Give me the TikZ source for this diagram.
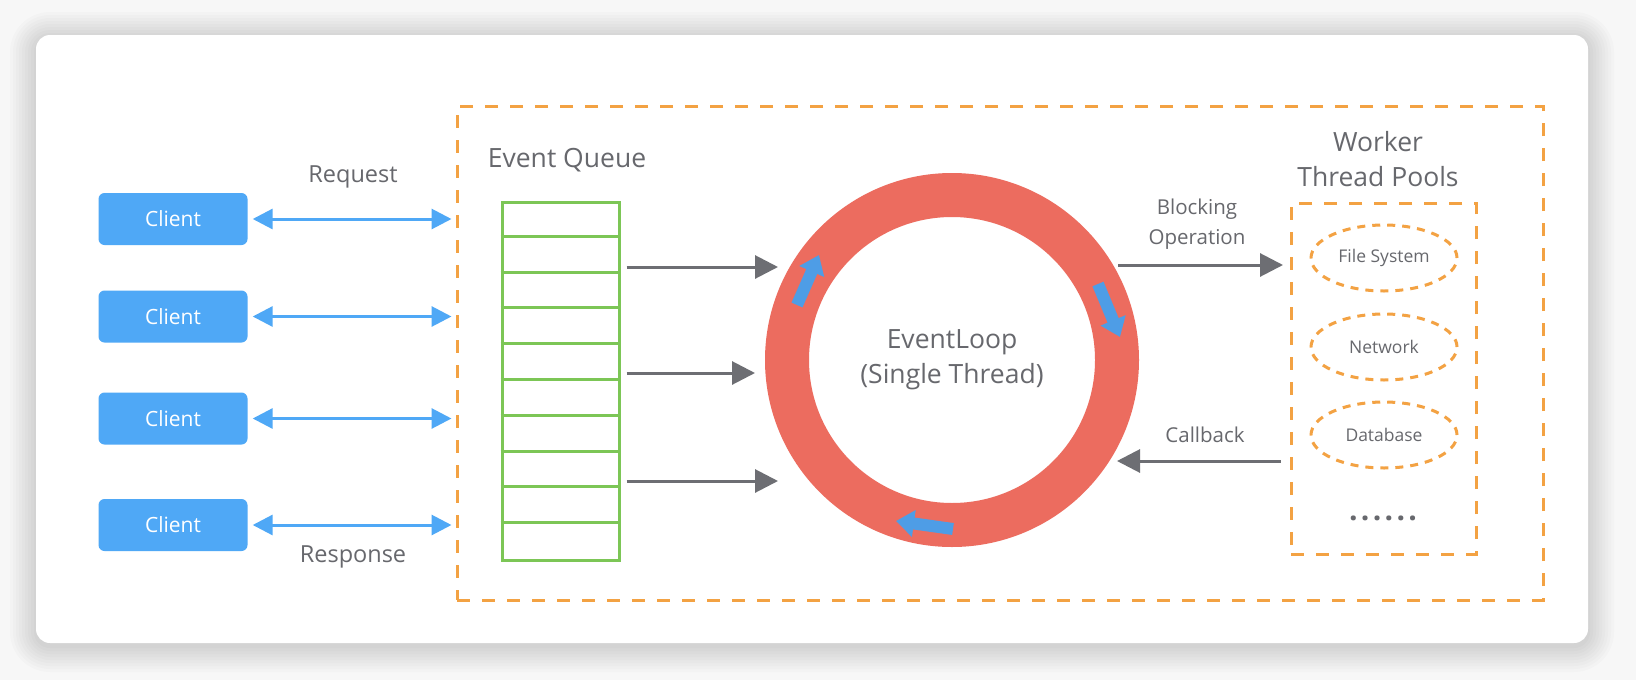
\documentclass[tikz,border=0pt]{standalone}
\usepackage{fontspec}
\setmainfont{Open Sans}
\usetikzlibrary{arrows.meta,shapes.geometric}
\definecolor{bgc}{HTML}{F7F7F7}
\definecolor{txt}{HTML}{67686D}
\definecolor{cblue}{HTML}{4FA8F6}
\definecolor{rblue}{HTML}{4E9DE6}
\definecolor{orng}{HTML}{F3A243}
\definecolor{grn}{HTML}{7CC656}
\definecolor{ringred}{HTML}{EC6C5F}
\definecolor{agray}{HTML}{6D6E73}
\tikzset{
  lbl/.style={text=txt, inner sep=0pt, font=\fontsize{23.5}{26}\selectfont},
  big/.style={lbl, font=\fontsize{26.5}{30}\selectfont},
  mid/.style={lbl, font=\fontsize{20.5}{24}\selectfont},
  client/.style={fill=cblue, rounded corners=6, minimum width=149, minimum height=52,
    text=white, font=\fontsize{21}{24}\selectfont, inner sep=0pt},
  barrow/.style={draw=cblue, line width=3, {Triangle[length=20pt,width=20pt]}-{Triangle[length=20pt,width=20pt]}},
  garrow/.style={draw=agray, line width=3, -{Triangle[length=23pt,width=23pt]}},
  ringarrow/.style={draw=rblue, line width=12, -{Triangle[length=18pt,width=26pt]}},
  odash/.style={draw=orng, line width=3, dash pattern=on 13pt off 12pt},
  eldash/.style={draw=orng, line width=3, dash pattern=on 8pt off 7pt, ellipse,
    minimum width=146, minimum height=66, inner sep=0pt, text=txt, font=\fontsize{17.5}{20}\selectfont},
}
\begin{document}
\begin{tikzpicture}[x=1pt,y=-1pt]
\useasboundingbox (0,0) rectangle (1636,680);
\fill[bgc] (0,0) rectangle (1636,680);
% soft shadow of the card
\foreach \r in {26,23,...,2}
  \fill[black, opacity=0.014, rounded corners={14+\r}] (36-\r,35-\r+3) rectangle (1588+\r,643+\r+3);
\fill[white, rounded corners=14] (36,35) rectangle (1588,643);

% outer dashed frame
\node[odash, minimum width=1086, minimum height=494, inner sep=0pt] (frame) at (1000,353) {};

% clients
\node[client] (c1) at (173,219) {Client};
\node[client] (c2) at (173,316.5) {Client};
\node[client] (c3) at (173,418.5) {Client};
\node[client] (c4) at (173,525) {Client};
\foreach \i in {1,...,4}{
  \coordinate (f\i) at ([xshift=-4pt]c\i.east -| frame.west);
  \draw[barrow] ([xshift=5pt]c\i.east) -- (f\i);
}
\node[lbl] (req) at (353,177) {Request};
\node[lbl] (resp) at (353,557) {Response};

% event queue
\node[big] (eq) at (567,160) {Event Queue};
\node[draw=grn, line width=3, minimum width=117, minimum height=358, inner sep=0pt] (q) at (560.5,381) {};
\foreach \k in {1,...,9}
  \draw[grn, line width=3] ([yshift=-35.8*\k]q.north west) -- ([yshift=-35.8*\k]q.north east);

% event loop ring
\node[circle, draw=ringred, line width=44, minimum size=330, inner sep=0pt] (ring) at (952,360) {};
\node[big] (el1) at (952,342) {EventLoop};
\node[big] (el2) at (952,377) {(Single Thread)};
\coordinate (ra1) at (797,305); \coordinate (rb1) at (819,255);
\coordinate (ra2) at (1098,284); \coordinate (rb2) at (1120,337);
\coordinate (ra3) at (953,529); \coordinate (rb3) at (896,521);
\foreach \i in {1,2,3} \draw[ringarrow] (ra\i) -- (rb\i);

% queue to loop
\coordinate (t1) at (778,267);
\coordinate (t2) at (755,373);
\coordinate (t3) at (778,481);
\draw[garrow] (q.east |- t1) ++(6,0) -- (t1);
\draw[garrow] (q.east |- t2) ++(6,0) -- (t2);
\draw[garrow] (q.east |- t3) ++(6,0) -- (t3);

% worker thread pools
\node[big] (w1) at (1378,142) {Worker};
\node[big] (w2) at (1378,177) {Thread Pools};
\node[odash, minimum width=185, minimum height=351, inner sep=0pt] (pool) at (1383.5,378.5) {};
\node[eldash] (fs) at (1384,258) {File System};
\node[eldash] (nw) at (1384,347) {Network};
\node[eldash] (db) at (1384,435) {Database};
\node[text=txt, inner sep=0pt, anchor=base, font=\bfseries\fontsize{30}{30}\selectfont] (more) at (1383,520)
  {.\hskip3.3pt.\hskip3.3pt.\hskip3.3pt.\hskip3.3pt.\hskip3.3pt.};

% blocking / callback
\coordinate (bo) at (1283,265);
\coordinate (cb) at (1117,461);
\draw[garrow] (ring.east |- bo) ++(-21,0) -- (bo);
\draw[garrow] (pool.west |- cb) ++(-9,0) -- (cb);
\node[mid] (blk1) at (1197,209) {Blocking};
\node[mid] (blk2) at (1197,239) {Operation};
\node[mid] (cbl) at (1205,435) {Callback};
\end{tikzpicture}
\end{document}
